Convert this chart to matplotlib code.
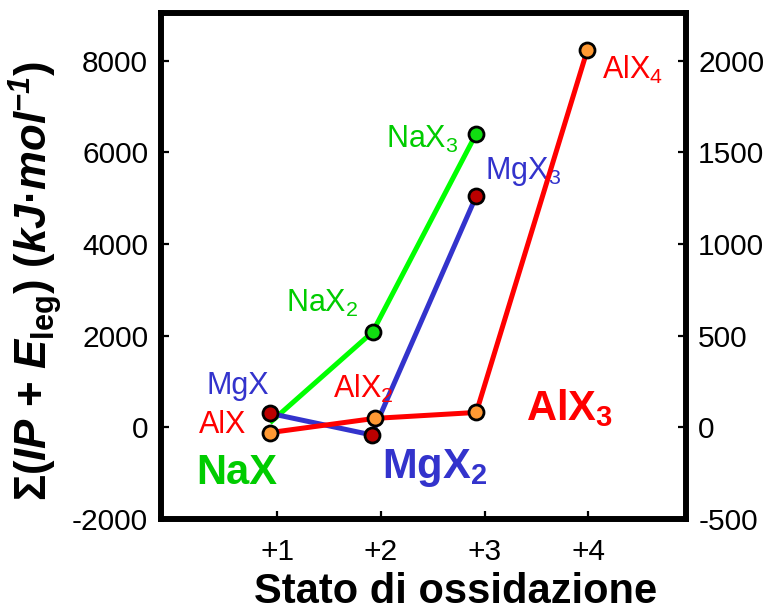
import matplotlib
matplotlib.use("Agg")
import matplotlib.pyplot as plt
from matplotlib.ticker import FixedLocator

plt.rcParams["font.family"] = ["Liberation Sans", "DejaVu Sans"]
plt.rcParams["mathtext.fontset"] = "custom"
plt.rcParams["mathtext.rm"] = "Liberation Sans"
plt.rcParams["mathtext.it"] = "Liberation Sans:italic"
plt.rcParams["mathtext.bf"] = "Liberation Sans:bold"
plt.rcParams["mathtext.bfit"] = "Liberation Sans:bold:italic"

# Oxidation state positions and energy sums (kJ/mol)
na_x = [0.93, 1.92, 2.92]
na_y = [100, 2080, 6410]
mg_x = [0.93, 1.91, 2.92]
mg_y = [305, -165, 5050]
al_x = [0.93, 1.94, 2.92, 3.99]
al_y = [-115, 195, 325, 8225]

xticks = [1, 2, 3, 4]
xticklabels = ["+1", "+2", "+3", "+4"]
left_ticks = [-2000, 0, 2000, 4000, 6000, 8000]
right_ticks = [-500, 0, 500, 1000, 1500, 2000]

GREEN_LINE = "#00FF00"
GREEN_TEXT = "#00CC00"
GREEN_FILL = "#11DD11"
BLUE = "#3333CC"
RED = "#FF0000"
DARK_RED = "#BB0000"
ORANGE = "#FF9933"

W, H = 775, 611
fig = plt.figure(figsize=(W / 100, H / 100), dpi=100)
ax = fig.add_axes([160.7 / W, 1 - 519 / H, (685.7 - 160.7) / W, (519 - 13) / H])

ylo, yhi = -2000, 9040
ax.set_xlim(-0.124, 4.94)
ax.set_ylim(ylo, yhi)

lw = 3.6
ax.plot(na_x, na_y, color=GREEN_LINE, lw=lw, zorder=2, solid_capstyle="butt")
ax.plot(mg_x, mg_y, color=BLUE, lw=lw, zorder=3, solid_capstyle="butt")
ax.plot(al_x, al_y, color=RED, lw=lw, zorder=4, solid_capstyle="butt")

mk = dict(marker="o", ms=10.8, mec="black", mew=2.0, ls="none")
ax.plot(na_x[1:], na_y[1:], mfc=GREEN_FILL, zorder=5, **mk)
ax.plot(mg_x, mg_y, mfc=DARK_RED, zorder=6, **mk)
ax.plot(al_x, al_y, mfc=ORANGE, zorder=7, **mk)

small = 22
big = 30
ax.text(0.62, 891, "MgX", color=BLUE, fontsize=small, ha="center", va="center")
ax.text(0.47, 43, "AlX", color=RED, fontsize=small, ha="center", va="center")
ax.text(1.83, 848, r"AlX$_2$", color=RED, fontsize=small, ha="center", va="center")
ax.text(1.43, 2696, r"NaX$_2$", color=GREEN_TEXT, fontsize=small, ha="center", va="center")
ax.text(2.40, 6283, r"NaX$_3$", color=GREEN_TEXT, fontsize=small, ha="center", va="center")
ax.text(3.37, 5587, r"MgX$_3$", color=BLUE, fontsize=small, ha="center", va="center")
ax.text(4.43, 7804, r"AlX$_4$", color=RED, fontsize=small, ha="center", va="center")

ax.text(0.61, -1000, "NaX", color=GREEN_TEXT, fontsize=big, fontweight="bold",
        ha="center", va="center")
ax.text(2.52, -880, r"MgX$_\mathbf{2}$", color=BLUE, fontsize=big, fontweight="bold",
        ha="center", va="center")
ax.text(3.82, 413, r"AlX$_\mathbf{3}$", color=RED, fontsize=big, fontweight="bold",
        ha="center", va="center")

ax.xaxis.set_major_locator(FixedLocator(xticks))
ax.set_xticklabels(xticklabels)
ax.yaxis.set_major_locator(FixedLocator(left_ticks))
ax.set_yticklabels([str(v) for v in left_ticks])

for s in ax.spines.values():
    s.set_linewidth(4.1)
ax.tick_params(axis="both", direction="in", length=6, width=1.6, labelsize=21.5)
ax.tick_params(axis="x", pad=14)
ax.tick_params(axis="y", pad=9)

ax2 = ax.twinx()
ax2.set_ylim(ylo / 4, yhi / 4)
ax2.yaxis.set_major_locator(FixedLocator(right_ticks))
ax2.set_yticklabels([str(v) for v in right_ticks])
ax2.tick_params(axis="y", direction="in", length=6, width=1.6, labelsize=21.5, pad=9)
for s in ax2.spines.values():
    s.set_linewidth(4.1)

ax.set_xlabel("Stato di ossidazione", fontsize=30, fontweight="bold")
ax.xaxis.set_label_coords(0.5625, -0.104)
ax.set_ylabel(r"$\mathbf{\Sigma(}\mathbfit{IP}\ \mathbf{+}\ \mathbfit{E}_{\mathbf{leg}}\mathbf{)\ (}"
              r"\mathbfit{kJ}\mathbf{·}\mathbfit{mol}^{\mathbfit{-1}}\mathbf{)}$",
              fontsize=31.5)
ax.yaxis.set_label_coords(-0.184, 0.47)

fig.savefig("out.png", dpi=100)
